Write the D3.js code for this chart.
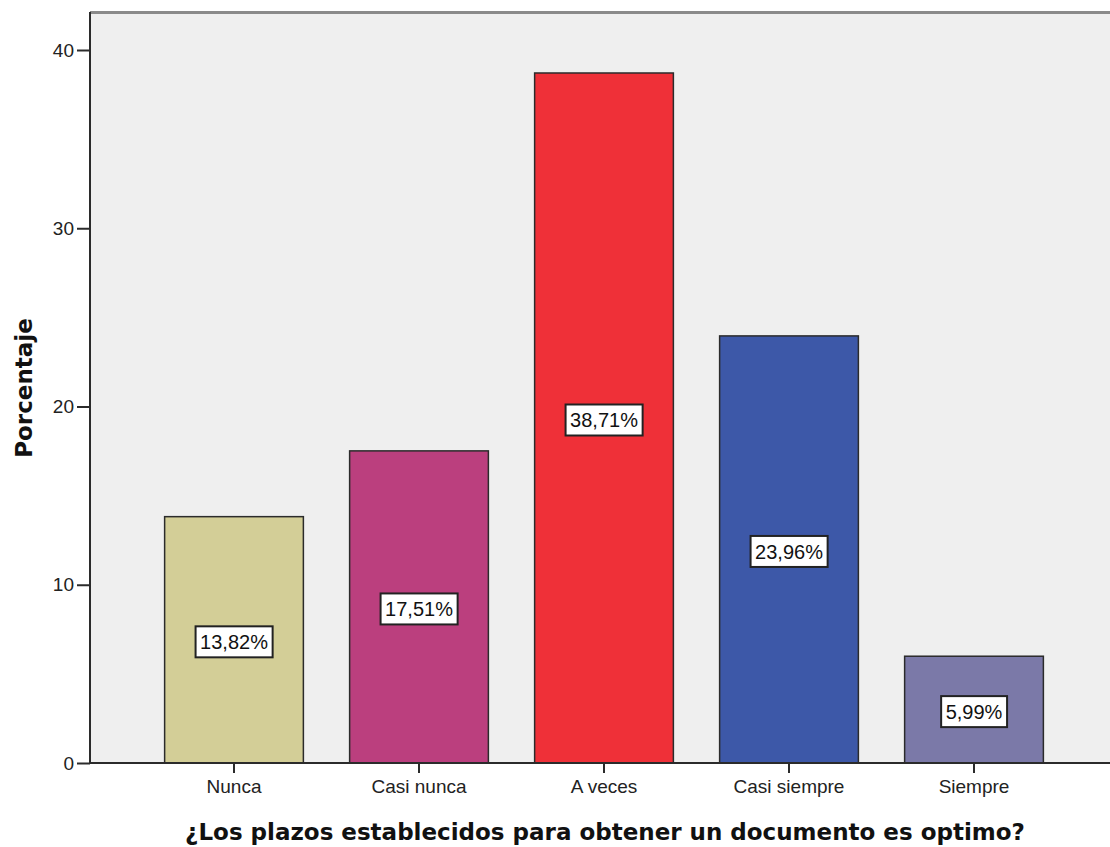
<!DOCTYPE html>
<html>
<head>
<meta charset="utf-8">
<script src="https://cdn.jsdelivr.net/npm/d3@7"></script>
<style>
  html, body { margin: 0; padding: 0; background: #ffffff; }
  svg { display: block; }
</style>
</head>
<body>
<svg id="chart" width="1110" height="847"></svg>
<script>
// Response categories and their percentages
const categories = ["Nunca", "Casi nunca", "A veces", "Casi siempre", "Siempre"];
const percentages = [13.82, 17.51, 38.71, 23.96, 5.99];
const barColors = ["#d3ce97", "#bb3f7e", "#ef3038", "#3d58a8", "#7b79a8"];
const yTicks = [0, 10, 20, 30, 40];
const xTitle = "¿Los plazos establecidos para obtener un documento es optimo?";
const yTitle = "Porcentaje";

const svg = d3.select("#chart");
const plot = { left: 90, right: 1110, top: 12, bottom: 763 };

const x = d3.scaleBand()
  .domain(categories)
  .range([141.5, 1066.5])
  .paddingInner(0.25)
  .paddingOuter(0.125);

const y = d3.scaleLinear()
  .domain([0, 40])
  .range([763, 50]);

const sans = "'Liberation Sans', Arial, sans-serif";
const boldSans = "'DejaVu Sans', Verdana, sans-serif";

// Plot background
svg.append("rect")
  .attr("x", plot.left).attr("y", plot.top)
  .attr("width", plot.right - plot.left)
  .attr("height", plot.bottom - plot.top)
  .attr("fill", "#efefef");

// Top frame line
svg.append("line")
  .attr("x1", plot.left).attr("x2", plot.right)
  .attr("y1", plot.top + 0.5).attr("y2", plot.top + 0.5)
  .attr("stroke", "#8a8a8a").attr("stroke-width", 3);

// Bars
const data = categories.map((c, i) => ({ cat: c, value: percentages[i], color: barColors[i] }));

svg.append("g").selectAll("rect")
  .data(data)
  .join("rect")
  .attr("x", d => x(d.cat))
  .attr("y", d => y(d.value))
  .attr("width", x.bandwidth())
  .attr("height", d => y(0) - y(d.value))
  .attr("fill", d => d.color)
  .attr("stroke", "#2b2b2b")
  .attr("stroke-width", 1.5);

// Y axis
const yAxis = d3.axisLeft(y)
  .tickValues(yTicks)
  .tickSize(13)
  .tickPadding(3)
  .tickFormat(d3.format("d"));

const gy = svg.append("g")
  .attr("transform", `translate(${plot.left},0)`)
  .call(yAxis);
gy.select(".domain").remove();
gy.selectAll(".tick line").attr("stroke", "#2b2b2b").attr("stroke-width", 2);
gy.selectAll(".tick text")
  .attr("fill", "#222")
  .style("font-family", sans)
  .style("font-size", "19px");

svg.append("line")
  .attr("x1", plot.left).attr("x2", plot.left)
  .attr("y1", plot.top).attr("y2", plot.bottom + 1)
  .attr("stroke", "#2b2b2b").attr("stroke-width", 2);

// X axis
const xAxis = d3.axisBottom(x)
  .tickSize(10)
  .tickPadding(7);

const gx = svg.append("g")
  .attr("transform", `translate(0,${plot.bottom})`)
  .call(xAxis);
gx.select(".domain").remove();
gx.selectAll(".tick line").attr("stroke", "#2b2b2b").attr("stroke-width", 2);
gx.selectAll(".tick text")
  .attr("fill", "#222")
  .style("font-family", sans)
  .style("font-size", "19px");

svg.append("line")
  .attr("x1", plot.left).attr("x2", plot.right)
  .attr("y1", plot.bottom).attr("y2", plot.bottom)
  .attr("stroke", "#2b2b2b").attr("stroke-width", 2);

// Value labels in white boxes at bar mid-height
const fmt = v => d3.format(".2f")(v).replace(".", ",") + "%";
const labels = svg.append("g").selectAll("g")
  .data(data)
  .join("g")
  .attr("transform", d => `translate(${x(d.cat) + x.bandwidth() / 2},${(y(d.value) + y(0)) / 2 + 2})`);

labels.each(function (d) {
  const g = d3.select(this);
  const t = g.append("text")
    .attr("text-anchor", "middle")
    .attr("dy", "0.36em")
    .attr("fill", "#111")
    .style("font-family", sans)
    .style("font-size", "20px")
    .text(fmt(d.value));
  const bb = t.node().getBBox();
  g.insert("rect", "text")
    .attr("x", bb.x - 4.5)
    .attr("y", -15.5)
    .attr("width", bb.width + 9)
    .attr("height", 31)
    .attr("fill", "#ffffff")
    .attr("stroke", "#222")
    .attr("stroke-width", 2);
});

// Axis titles
svg.append("text")
  .attr("x", (plot.left + plot.right) / 2 + 5)
  .attr("y", 840)
  .attr("text-anchor", "middle")
  .attr("fill", "#111")
  .style("font-family", boldSans)
  .style("font-weight", "bold")
  .style("font-size", "23px")
  .text(xTitle);

svg.append("text")
  .attr("transform", "translate(32,388) rotate(-90)")
  .attr("text-anchor", "middle")
  .attr("fill", "#111")
  .style("font-family", boldSans)
  .style("font-weight", "bold")
  .style("font-size", "23px")
  .text(yTitle);
</script>
</body>
</html>
